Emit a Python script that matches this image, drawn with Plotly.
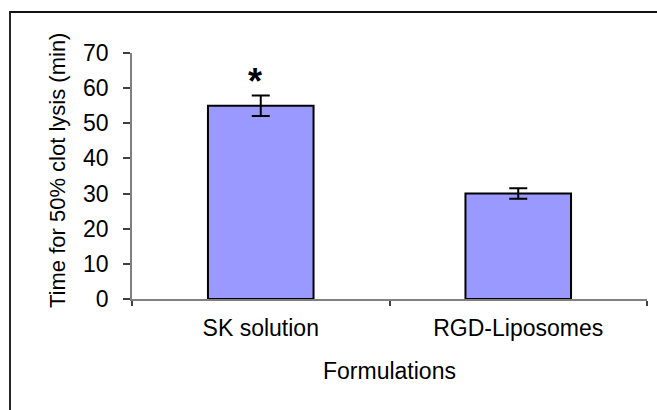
import plotly.graph_objects as go

categories = ["SK solution", "RGD-Liposomes"]
values = [55, 30]
errors = [2.9, 1.5]
y_ticks = [0, 10, 20, 30, 40, 50, 60, 70]

W, H = 657, 410
L, R, T, B = 132, 10, 53, 111
pw = W - L - R
ph = H - T - B

def px_x(px):
    return (px - L) / pw

def px_y(py):
    return (H - B - py) / ph

fig = go.Figure()
fig.add_trace(go.Bar(
    x=categories, y=values, width=0.41,
    marker=dict(color="#9999FF", line=dict(color="#000000", width=2)),
    error_y=dict(type="data", array=errors, visible=True, color="#000000",
                 thickness=2, width=9),
    showlegend=False,
))

fig.add_annotation(x=categories[0], y=values[0] + errors[0], xref="x", yref="y",
                   text="<b>*</b>", showarrow=False, yanchor="bottom", yshift=-8, xshift=-6,
                   font=dict(family="Liberation Sans, Arial", size=36, color="#000"))

fig.add_annotation(x=px_x(57), y=px_y(171), xref="paper", yref="paper",
                   text="Time for 50% clot lysis (min)", textangle=-90, showarrow=False,
                   xanchor="center", yanchor="middle",
                   font=dict(family="Liberation Sans, Arial", size=22, color="#000"))
fig.add_annotation(x=0.5, y=px_y(371), xref="paper", yref="paper",
                   text="Formulations", showarrow=False,
                   xanchor="center", yanchor="middle",
                   font=dict(family="Liberation Sans, Arial", size=23, color="#000"))

fig.add_shape(type="rect", xref="paper", yref="paper",
              x0=px_x(10), x1=px_x(662), y0=px_y(415), y1=px_y(12),
              line=dict(color="#111111", width=1.8), fillcolor="rgba(0,0,0,0)", layer="below")

fig.update_layout(
    width=W, height=H,
    margin=dict(l=L, r=R, t=T, b=B, autoexpand=False),
    paper_bgcolor="white", plot_bgcolor="white",
    font=dict(family="Liberation Sans, Arial", color="#000"),
    xaxis=dict(showline=True, linecolor="#808080", linewidth=1.5,
               ticks="outside", tickson="boundaries", ticklen=5, tickcolor="#404040",
               tickwidth=1.5, tickfont=dict(size=23), showgrid=False,
               ticklabelstandoff=8, range=[-0.5, 1.5]),
    yaxis=dict(range=[0, 70], tickvals=y_ticks, showline=True, linecolor="#808080",
               linewidth=1.5, ticks="outside", ticklen=7, tickcolor="#404040", tickwidth=1.5,
               tickfont=dict(size=23), showgrid=False, zeroline=False,
               ticklabelstandoff=10),
)

fig.write_html("out.html", config={"displayModeBar": False},
               post_script="document.body.style.margin='0';document.body.style.overflow='hidden';")
